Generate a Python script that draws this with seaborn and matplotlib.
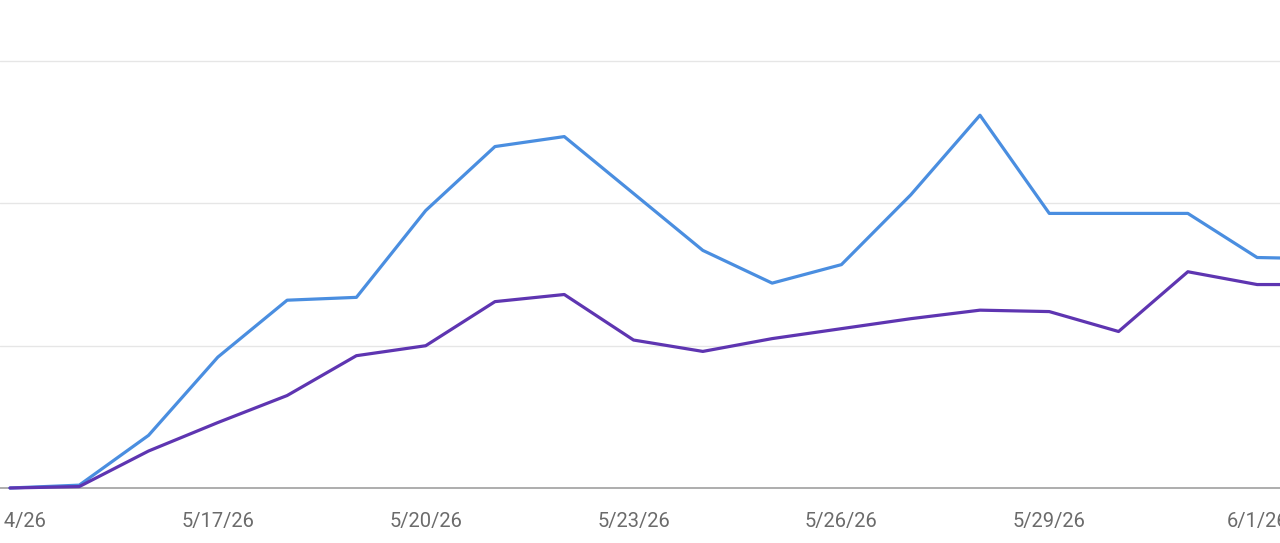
import pandas as pd
import matplotlib.pyplot as plt
import seaborn as sns

# daily values (gridlines at 1, 2, 3)
dates = pd.date_range("2026-05-14", "2026-06-02", freq="D")
blue_vals = [0.0, 0.02, 0.37, 0.92, 1.32, 1.34, 1.95, 2.40, 2.47, 2.07,
             1.67, 1.44, 1.57, 2.06, 2.62, 1.93, 1.93, 1.93, 1.62, 1.61]
purple_vals = [0.0, 0.01, 0.26, 0.46, 0.65, 0.93, 1.00, 1.31, 1.36, 1.04,
               0.96, 1.05, 1.12, 1.19, 1.25, 1.24, 1.10, 1.52, 1.43, 1.43]
tick_dates = pd.to_datetime(["2026-05-14", "2026-05-17", "2026-05-20", "2026-05-23",
                             "2026-05-26", "2026-05-29", "2026-06-01"])
tick_labels = ["5/14/26", "5/17/26", "5/20/26", "5/23/26", "5/26/26", "5/29/26", "6/1/26"]

df = pd.DataFrame({
    "date": list(dates) * 2,
    "value": blue_vals + purple_vals,
    "series": ["clicks"] * len(dates) + ["impressions"] * len(dates),
})

sns.set_style("white")
plt.rcParams["font.family"] = ["Roboto", "DejaVu Sans"]

fig = plt.figure(figsize=(12.8, 5.43), dpi=100)
ax = fig.add_axes([0, 55 / 543, 1, 488 / 543])

sns.lineplot(data=df, x="date", y="value", hue="series",
             palette={"clicks": "#4a8ee0", "impressions": "#5e35b1"},
             linewidth=2.3, legend=False, ax=ax, clip_on=False, zorder=3)

day0 = dates[0]
ax.set_xlim(day0 - pd.Timedelta(days=0.144), day0 + pd.Timedelta(days=18.33))
ax.set_ylim(0, 3.43)

ax.set_yticks([1, 2, 3])
ax.set_yticklabels([])
ax.yaxis.grid(True, color="#e6e6e6", linewidth=1)
ax.tick_params(axis="y", length=0)

ax.set_xticks(tick_dates)
ax.set_xticklabels(tick_labels, fontsize=14.5, color="#6b6b6b")
ax.tick_params(axis="x", length=0, pad=17)

for side in ["left", "right", "top"]:
    ax.spines[side].set_visible(False)
ax.spines["bottom"].set_color("#a0a0a0")
ax.spines["bottom"].set_linewidth(1.2)

ax.set_xlabel("")
ax.set_ylabel("")

fig.savefig("out.png", dpi=100)
